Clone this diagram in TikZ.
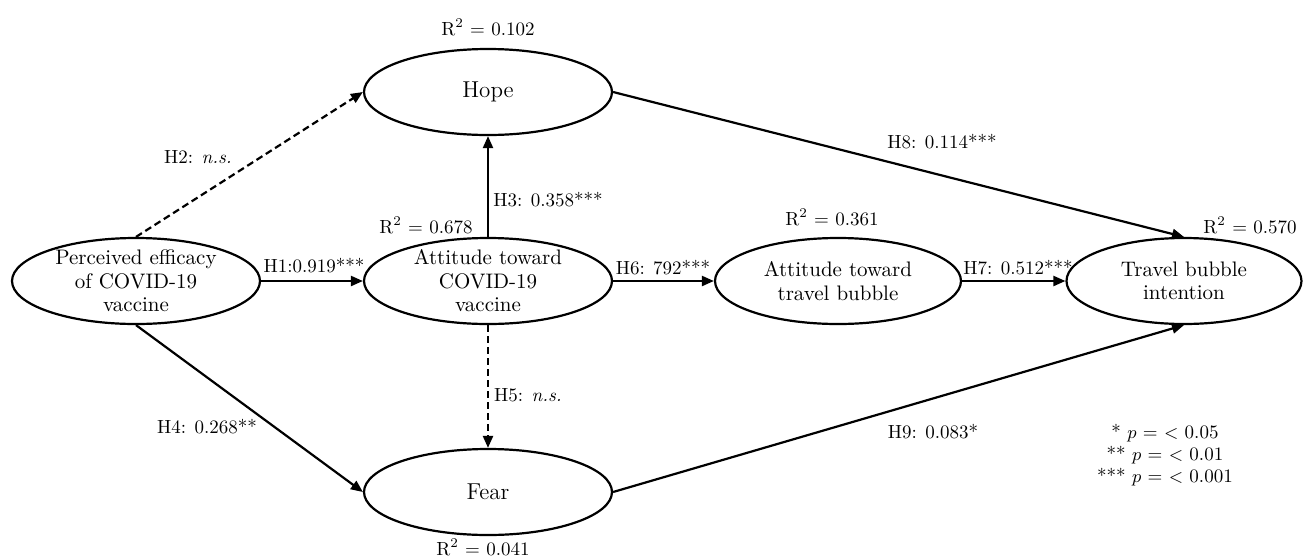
\documentclass[tikz,border=0pt]{standalone}
\usetikzlibrary{shapes.geometric, arrows.meta}
\begin{document}
\begin{tikzpicture}[x=0.5pt, y=-0.5pt, line width=1.1pt,
  latent/.style={draw, ellipse, minimum width=124pt, minimum height=43pt, inner sep=0pt},
  vtxt/.style={align=center, font=\fontsize{10.5}{11.75}\selectfont, inner sep=0pt},
  btxt/.style={font=\fontsize{11.5}{13}\selectfont, inner sep=0pt},
  effect/.style={-{Stealth[length=6pt, width=5pt, inset=0pt]}, line width=1.1pt},
  nseffect/.style={effect, dash pattern=on 3.5pt off 2pt},
  coef/.style={font=\fontsize{9.5}{11}\selectfont, inner sep=1pt},
  rsq/.style={font=\fontsize{9.5}{11}\selectfont, inner sep=1pt}]
  \useasboundingbox (0,0) rectangle (1303,558);
  % constructs
  \node[latent] (perc) at (136,281) {};
  \node[latent] (hope) at (488,92) {};
  \node[latent] (attvac) at (488,281) {};
  \node[latent] (fear) at (488,492) {};
  \node[latent, minimum width=123pt] (attbub) at (838,281) {};
  \node[latent, minimum width=117.5pt] (intent) at (1184,281) {};
  \node[vtxt] (percT) at (perc) {Perceived efficacy\\of COVID-19\\vaccine};
  \node[btxt] (hopeT) at (hope) {Hope};
  \node[vtxt] (attvacT) at (attvac) {Attitude toward\\COVID-19\\vaccine};
  \node[btxt] (fearT) at (fear) {Fear};
  \node[vtxt] (attbubT) at (attbub) {Attitude toward\\travel bubble};
  \node[vtxt] (intentT) at (intent) {Travel bubble\\intention};
  % paths
  \draw[effect] (perc.east) -- (attvac.west);
  \draw[nseffect] (perc.north) -- (hope.west);
  \draw[effect] (attvac.north) -- (hope.south);
  \draw[effect] (perc.south) -- (fear.west);
  \draw[nseffect] (attvac.south) -- (fear.north);
  \draw[effect] (attvac.east) -- (attbub.west);
  \draw[effect] (attbub.east) -- (intent.west);
  \draw[effect] (hope.east) -- (intent.north);
  \draw[effect] (fear.east) -- (intent.south);
  % coefficients
  \node[coef] (lH1) at (314,266) {H1:0.919***};
  \node[coef] (lH2) at (198,157) {H2: \textit{n.s.}};
  \node[coef] (lH3) at (548,200) {H3: 0.358***};
  \node[coef] (lH4) at (207,427) {H4: 0.268**};
  \node[coef] (lH5) at (528,395) {H5: \textit{n.s.}};
  \node[coef] (lH6) at (663,268) {H6: 792***};
  \node[coef] (lH7) at (1018,268) {H7: 0.512***};
  \node[coef] (lH8) at (942,142) {H8: 0.114***};
  \node[coef] (lH9) at (933,432) {H9: 0.083*};
  % explained variance
  \node[rsq] (r2hope) at (488,27) {R\textsuperscript{2} = 0.102};
  \node[rsq] (r2attvac) at (426,225) {R\textsuperscript{2} = 0.678};
  \node[rsq] (r2attbub) at (832,217) {R\textsuperscript{2} = 0.361};
  \node[rsq] (r2intent) at (1250,225) {R\textsuperscript{2} = 0.570};
  \node[rsq] (r2fear) at (483,547) {R\textsuperscript{2} = 0.041};
  \node[coef, align=center] (legend) at (1165,455) {* $p$ = $<$ 0.05\\** $p$ = $<$ 0.01\\*** $p$ = $<$ 0.001};
\end{tikzpicture}
\end{document}
